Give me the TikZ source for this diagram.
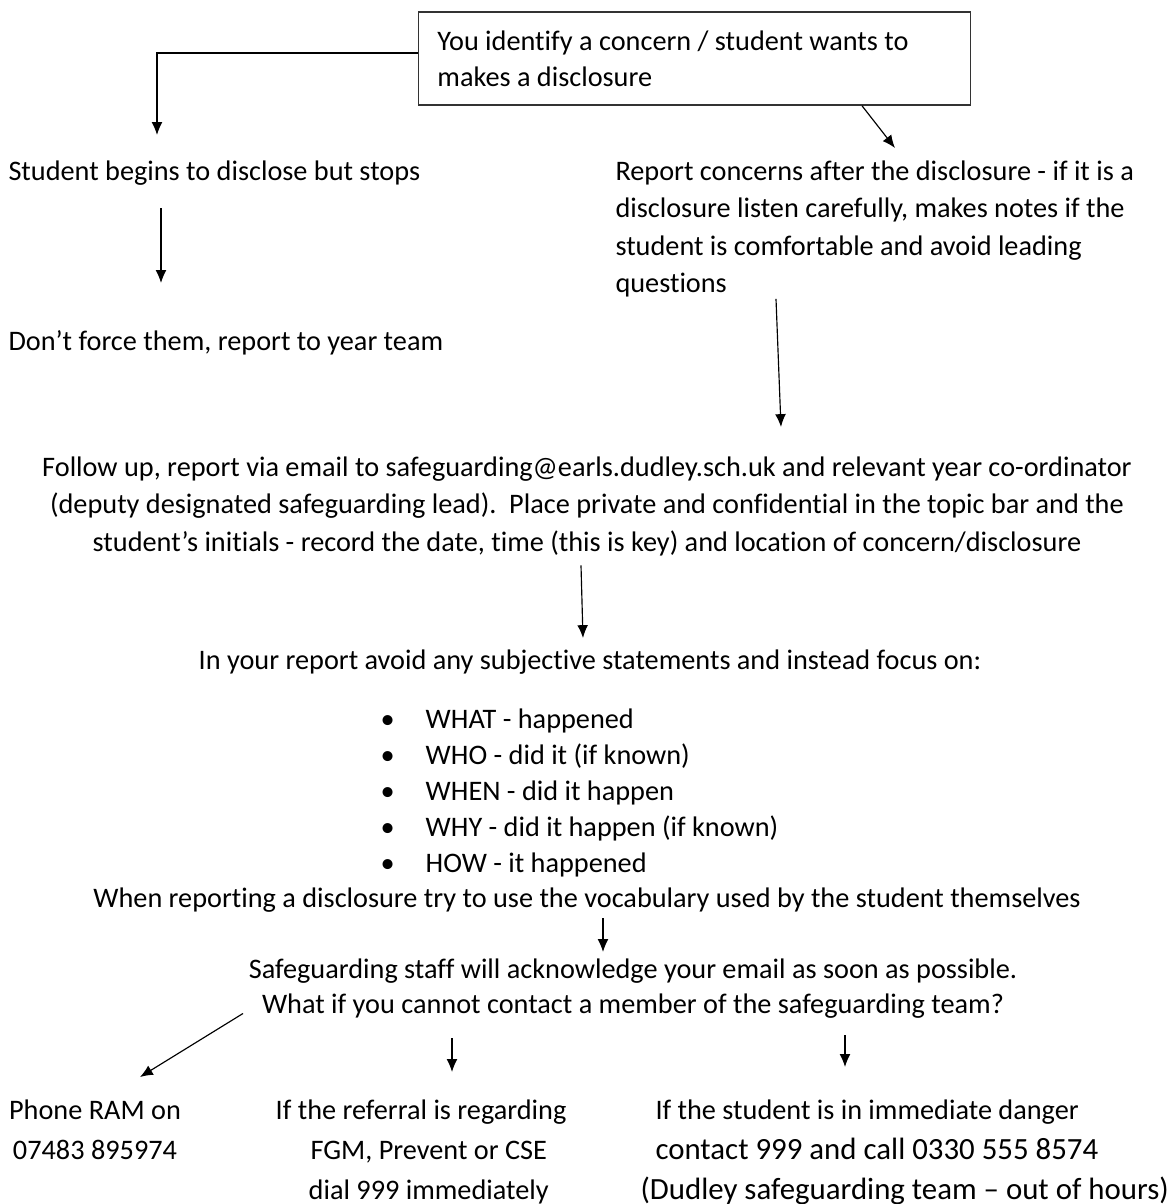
\documentclass[tikz,border=0pt]{standalone}
\usepackage{fontspec}
\setmainfont{Carlito}[Ligatures=NoCommon]
\usepackage{tikz}
\usetikzlibrary{arrows.meta,calc,positioning}
\tikzstyle{box}=[rectangle,draw=black!80,line width=0.55pt,text width=200pt,inner xsep=7.4pt,minimum height=36.2pt,align=flush left,font=\fontsize{11}{14}\selectfont]
\tikzstyle{txt}=[inner sep=0pt,font=\fontsize{11}{14.6}\selectfont]
\tikzstyle{arr}=[-{Latex[length=5pt,width=4.2pt]},line width=0.45pt]
\tikzset{
	lst/.style={txt,align=left,font=\fontsize{11}{14}\selectfont},
	ackt/.style={txt,align=center,font=\fontsize{11}{13.6}\selectfont},
	opt/.style={txt,font=\fontsize{11}{15.6}\selectfont}
}
\newcommand{\blt}{\makebox[17.6pt][l]{•}}
\newcommand{\bigt}{\fontsize{12}{15.6}\selectfont}

\begin{document}
\begin{tikzpicture}[x=0.389pt,y=-0.389pt]
	\useasboundingbox (0,0) rectangle (1172,1204);
	\node (idf) [box] at (694.5,58.5) {You identify a concern / student wants to\\makes a disclosure};
	\node (stp) [txt,anchor=base west] at (8,180) {Student begins to disclose but stops};
	\node (frc) [txt,anchor=base west] at (8,350) {Don’t force them, report to year team};
	\node (rpt) [txt,anchor=north west,align=left] at (615,160) {Report concerns after the disclosure - if it is a\\disclosure listen carefully, makes notes if the\\student is comfortable and avoid leading\\questions};
	\node (flw) [txt,anchor=north,align=center] at (587,456) {Follow up, report via email to safeguarding@earls.dudley.sch.uk and relevant year co-ordinator\\(deputy designated safeguarding lead).\ \ Place private and confidential in the topic bar and the\\student’s initials - record the date, time (this is key) and location of concern/disclosure};
	\node (fcs) [txt,anchor=base] at (590,669) {In your report avoid any subjective statements and instead focus on:};
	\node (lst) [lst,anchor=north west] at (380,708) {\blt WHAT - happened\\\blt WHO - did it (if known)\\\blt WHEN - did it happen\\\blt WHY - did it happen (if known)\\\blt HOW - it happened};
	\node (voc) [txt,anchor=base] at (587,907) {When reporting a disclosure try to use the vocabulary used by the student themselves};
	\node (ack) [ackt,anchor=north] at (633,958) {Safeguarding staff will acknowledge your email as soon as possible.\\What if you cannot contact a member of the safeguarding team?};
	\node (phn) [opt,anchor=north,align=center] at (95,1099) {Phone RAM on\\07483 895974};
	\node (ref) [opt,anchor=north,align=center] at (421,1099) {If the referral is regarding\\\hspace*{6pt}FGM, Prevent or CSE\\\hspace*{6pt}dial 999 immediately};
	\node (dng) [opt,anchor=north west,align=left] at (655,1099) {If the student is in immediate danger\\\bigt contact 999 and call 0330 555 8574\\\hspace*{-5.8pt}\bigt(Dudley safeguarding team – out of hours)};
	% connectors
	\draw[arr] ($(idf.west)+(0,-5.5)$) -| ($(stp.base west)+(149,-45)$);
	\draw[arr] ($(idf.south)+(167.5,0)$) -- ($(rpt.north west)+(280,-12)$);
	\draw[arr] ($(stp.base west)+(153,28)$) -- ($(frc.base west)+(153,-67)$);
	\draw[arr] ($(rpt.south west)+(161,1)$) -- ($(flw.north)+(194,-29)$);
	\draw[arr] ($(flw.south)+(-6,9)$) -- ($(fcs.base)+(-7,-31)$);
	\draw[arr] ($(voc.base)+(16,11)$) -- ($(ack.north)+(-30,-6)$);
	\draw[arr] ($(ack.south)+(-390,-5)$) -- ($(phn.north)+(45,-22)$);
	\draw[arr] ($(ack.south)+(-181,20)$) -- ($(ref.north)+(31,-27)$);
	\draw[arr] ($(ack.south)+(212,17)$) -- ($(dng.north west)+(190,-32)$);
\end{tikzpicture}
\end{document}
